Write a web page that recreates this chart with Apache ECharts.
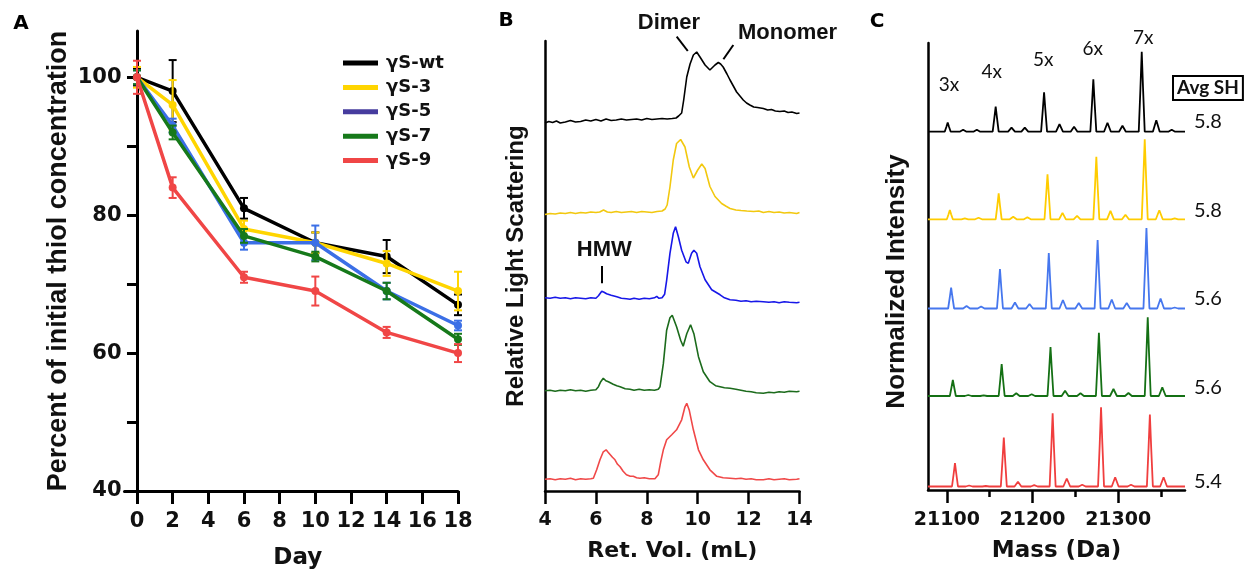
<!DOCTYPE html>
<html><head><meta charset="utf-8">
<script src="https://cdn.jsdelivr.net/npm/echarts@6/dist/echarts.min.js"></script>
<style>html,body{margin:0;padding:0;background:#fff}#c{width:1251px;height:575px}</style>
</head><body><div id="c"></div>
<script>
// ---------- Panel A data ----------
const days = [0, 2, 6, 10, 14, 18];
const seriesNames = ['γS-wt', 'γS-3', 'γS-5', 'γS-7', 'γS-9'];
const thiolWt = [100, 98, 81, 76, 74, 67];
const thiolS3 = [100, 96, 78, 76, 73, 69];
const thiolS5 = [100, 93, 76, 76, 69, 64];
const thiolS7 = [100, 92, 77, 74, 69, 62];
const thiolS9 = [100, 84, 71, 69, 63, 60];
const errWt = [1.2, 4.5, 1.5, 1.5, 2.4, 1.5];
const errS3 = [1.5, 3.6, 1.2, 1.5, 1.8, 2.8];
const errS5 = [1.0, 1.0, 1.0, 2.5, 1.2, 0.7];
const errS7 = [1.0, 1.0, 1.0, 0.7, 1.2, 0.8];
const errS9 = [2.4, 1.5, 0.8, 2.1, 0.8, 1.3];
const dayTicks = [0, 2, 4, 6, 8, 10, 12, 14, 16, 18];
const thiolTicks = [40, 50, 60, 70, 80, 90, 100];
const thiolLabels = [40, 60, 80, 100];

// ---------- Panel B data (retention volume mL, scattering) ----------
const secWt = [[4.0,-1],[4.15,0.5],[4.3,-0.5],[4.45,1],[4.6,-1],[4.8,0],[5.0,1.5],[5.2,0],[5.4,0.5],[5.6,2],[5.8,1],[6.0,2.5],[6.2,1],[6.4,3],[6.6,1.5],[6.8,2],[7.0,3],[7.2,2],[7.4,2.5],[7.6,3],[7.8,2],[8.0,3.5],[8.2,2.5],[8.4,3],[8.6,3.5],[8.8,3],[9.0,3.5],[9.15,4],[9.25,6],[9.37,9],[9.45,22],[9.57,45],[9.70,58],[9.83,67],[9.96,70],[10.09,65],[10.29,57],[10.48,52],[10.6,55],[10.68,57],[10.81,59.5],[10.9,58],[11.0,55],[11.15,48],[11.27,42],[11.4,36],[11.53,30],[11.66,26],[11.79,22],[11.92,19],[12.05,17],[12.2,15],[12.35,14.5],[12.58,13.5],[12.75,12],[12.9,12.5],[13.05,11],[13.23,10.5],[13.4,11],[13.55,9.5],[13.7,10],[13.89,8.5],[14.0,9]];
const secS3 = [[4.0,-1.5],[4.2,-0.5],[4.4,-1],[4.6,0],[4.8,-0.5],[5.0,0.5],[5.2,-0.5],[5.4,0.5],[5.6,0],[5.8,1],[6.0,0.5],[6.15,1],[6.3,3],[6.45,1],[6.6,0.5],[6.8,1.5],[7.0,0.5],[7.2,1],[7.4,1.5],[7.6,0.5],[7.8,1.5],[8.0,1],[8.2,0.5],[8.4,1.5],[8.6,2],[8.72,4],[8.8,8],[8.91,26],[9.04,53],[9.17,69.5],[9.33,73.5],[9.5,66],[9.67,46],[9.83,35],[10.0,43],[10.16,49],[10.29,44.5],[10.48,26.5],[10.68,16.5],[10.94,9.5],[11.1,7],[11.27,4.5],[11.5,3],[11.7,2.5],[11.93,2],[12.2,1.5],[12.4,2],[12.58,0.5],[12.8,1.5],[13.0,0.5],[13.2,1],[13.4,0],[13.6,0.5],[13.89,-0.5],[14.0,0.5]];
const secS5 = [[4.0,0.5],[4.2,0],[4.4,1],[4.6,0],[4.8,0.5],[5.0,-0.5],[5.2,0.5],[5.4,0],[5.6,-0.5],[5.8,0.5],[6.0,0],[6.1,2.5],[6.23,7],[6.32,6],[6.42,4.5],[6.6,3],[6.82,1.5],[7.0,0],[7.2,-0.5],[7.34,-1],[7.5,0],[7.7,-1],[7.9,0],[8.1,-0.5],[8.3,0.5],[8.39,2],[8.48,0],[8.6,0.5],[8.7,4],[8.78,18],[8.91,45],[9.04,65],[9.13,71.5],[9.24,61.5],[9.37,48],[9.54,36.5],[9.63,35],[9.76,45],[9.85,48],[9.96,45],[10.09,31.5],[10.29,18.5],[10.55,8.5],[10.88,3.5],[11.05,0.5],[11.27,-1.5],[11.5,-2],[11.7,-3],[11.9,-2.5],[12.1,-3.5],[12.3,-3],[12.58,-3.5],[12.8,-4],[13.0,-3.5],[13.2,-4.5],[13.4,-3.5],[13.6,-4],[13.89,-4.5],[14.0,-4]];
const secS7 = [[4.0,0],[4.2,0.5],[4.4,-0.5],[4.6,0.5],[4.8,0],[5.0,1],[5.2,0],[5.4,0.5],[5.6,-0.5],[5.8,0.5],[6.0,1],[6.1,4],[6.19,9],[6.29,12.5],[6.39,10],[6.49,9],[6.68,6.5],[6.82,5],[6.95,4],[7.15,2],[7.34,1.5],[7.5,0.5],[7.7,1.5],[7.9,0.5],[8.1,1],[8.3,0.5],[8.45,1.5],[8.52,4],[8.65,27],[8.78,60.5],[8.91,73],[9.0,75.5],[9.17,64],[9.33,50.5],[9.43,44.5],[9.57,57],[9.72,66],[9.85,57],[10.03,34],[10.22,19],[10.48,9],[10.7,5],[10.88,4],[11.05,3],[11.27,2.5],[11.5,1.5],[11.7,0.5],[11.9,-0.5],[12.1,-1],[12.3,-2],[12.58,-2.5],[12.8,-1.5],[13.0,-2],[13.2,-1],[13.4,-1.5],[13.6,-0.5],[13.89,-1],[14.0,-0.5]];
const secS9 = [[4.0,0],[4.2,0.5],[4.4,-0.5],[4.6,0.5],[4.8,0],[5.0,1],[5.2,-0.5],[5.4,0.5],[5.6,0],[5.8,0.5],[5.9,1],[6.03,9.5],[6.16,19.5],[6.29,27.5],[6.40,29.5],[6.48,27],[6.55,26],[6.65,22],[6.75,19.5],[6.85,15],[6.95,12.5],[7.07,8],[7.2,4.5],[7.35,3],[7.47,3],[7.6,1.5],[7.73,1],[7.9,1.5],[8.1,0.5],[8.32,0.5],[8.45,4.5],[8.55,18],[8.65,29.5],[8.78,39.5],[8.98,44.5],[9.17,49.5],[9.37,59.5],[9.5,72.5],[9.57,76],[9.67,69],[9.83,49.5],[10.03,29.5],[10.22,19.5],[10.48,9.5],[10.75,3],[11.0,1.5],[11.27,1],[11.5,0.5],[11.7,1],[11.9,0],[12.1,0.5],[12.3,-0.5],[12.58,-0.5],[12.8,0.5],[13.0,-0.5],[13.2,0],[13.4,0.5],[13.6,-0.5],[13.89,0],[14.0,0.5]];

// ---------- Panel C data (mass Da, normalized intensity) ----------
const msWt = [[21078,0],[21097.5,0],[21099.5,5],[21101,9.3],[21102.5,5],[21104.5,0],[21115,0],[21119,2],[21123,0],[21131,0],[21135,2],[21139,0],[21153.5,0],[21155.5,14],[21157,25],[21158.5,14],[21160.5,0],[21171.5,0],[21175.5,4],[21179.5,0],[21187,0],[21191,4],[21195,0],[21210,0],[21212,22],[21213.5,39.5],[21215,22],[21217,0],[21227.5,0],[21231.5,7.5],[21235.5,0],[21244.5,0],[21248.5,5],[21252.5,0],[21267.5,0],[21269.5,29],[21271,52.5],[21272.5,29],[21274.5,0],[21283.5,0],[21287.5,9],[21291.5,0],[21301,0],[21305,6],[21309,0],[21324,0],[21326,44],[21327.5,80],[21329,44],[21331,0],[21340.5,0],[21344.5,11.5],[21348.5,0],[21358.5,0],[21362.5,2],[21366.5,0],[21378,0]];
const msS3 = [[21078,0],[21100,0],[21102,5],[21103.5,9.3],[21105,5],[21107,0],[21117,0],[21121,1],[21125,0],[21133,0],[21137,1.5],[21141,0],[21157,0],[21159,14],[21160.5,26],[21162,14],[21164,0],[21173.5,0],[21177.5,2.5],[21181.5,0],[21190,0],[21194,2],[21198,0],[21214,0],[21216,25],[21217.5,45],[21219,25],[21221,0],[21231,0],[21235,6.5],[21239,0],[21248,0],[21252,3.5],[21256,0],[21271,0],[21273,34],[21274.5,62.5],[21276,34],[21278,0],[21287,0],[21291,8.5],[21295,0],[21304.5,0],[21308.5,4.5],[21312.5,0],[21327.5,0],[21329.5,44],[21331,80],[21332.5,44],[21334.5,0],[21344,0],[21348,9],[21352,0],[21362,0],[21366,1],[21370,0],[21378,0]];
const msS5 = [[21078,0],[21101.5,0],[21103.5,11.5],[21105,21],[21106.5,11.5],[21108.5,0],[21119,0],[21123,2.5],[21127,0],[21136,0],[21140,2],[21144,0],[21158.5,0],[21160.5,21.5],[21162,39.5],[21163.5,21.5],[21165.5,0],[21175.5,0],[21179.5,6],[21183.5,0],[21192.5,0],[21196.5,4.5],[21200.5,0],[21215.5,0],[21217.5,30],[21219,55.5],[21220.5,30],[21222.5,0],[21231.5,0],[21235.5,8.5],[21239.5,0],[21250,0],[21254,5.5],[21258,0],[21272.5,0],[21274.5,37.5],[21276,68.5],[21277.5,37.5],[21279.5,0],[21288.5,0],[21292.5,9],[21296.5,0],[21306,0],[21310,5.5],[21314,0],[21329.5,0],[21331.5,44],[21333,80.5],[21334.5,44],[21336.5,0],[21345.5,0],[21349.5,10],[21353.5,0],[21362,0],[21366,1],[21370,0],[21378,0]];
const msS7 = [[21078,0],[21103.5,0],[21105.5,9],[21107,16],[21108.5,9],[21110.5,0],[21121,0],[21125,1],[21129,0],[21139,0],[21143,0.7],[21147,0],[21160.5,0],[21162.5,17.5],[21164,32],[21165.5,17.5],[21167.5,0],[21177,0],[21181,2.7],[21185,0],[21195,0],[21199,1.7],[21203,0],[21217.5,0],[21219.5,27],[21221,49],[21222.5,27],[21224.5,0],[21234,0],[21238,5.3],[21242,0],[21252,0],[21256,2.7],[21260,0],[21274,0],[21276,35],[21277.5,63.3],[21279,35],[21281,0],[21290.5,0],[21294.5,7],[21298.5,0],[21308,0],[21312,3],[21316,0],[21331,0],[21333,43],[21334.5,78.7],[21336,43],[21338,0],[21347.5,0],[21351.5,8.7],[21355.5,0],[21378,0]];
const msS9 = [[21078,0],[21106,0],[21108,13],[21109.5,23.3],[21111,13],[21113,0],[21122,0],[21126,1],[21130,0],[21141.5,0],[21145.5,0.5],[21149.5,0],[21163,0],[21165,27],[21166.5,49],[21168,27],[21170,0],[21179,0],[21183,4.7],[21187,0],[21198,0],[21202,1.3],[21206,0],[21220,0],[21222,40],[21223.5,73.3],[21225,40],[21227,0],[21236,0],[21240,8],[21244,0],[21254,0],[21258,1.7],[21262,0],[21276.5,0],[21278.5,43.5],[21280,79.3],[21281.5,43.5],[21283.5,0],[21292.5,0],[21296.5,9.3],[21300.5,0],[21311,0],[21315,1.7],[21319,0],[21333.5,0],[21335.5,39.5],[21337,72],[21338.5,39.5],[21340.5,0],[21349,0],[21353,9.3],[21357,0],[21378,0]];
const massMajorTicks = [21100, 21200, 21300];
const massMinorTicks = [21150, 21250, 21350];
const avgSH = ['5.8', '5.8', '5.6', '5.6', '5.4'];
const peakLabels = ['3x', '4x', '5x', '6x', '7x'];

// ---------- styling ----------
const DV = '"DejaVu Sans", sans-serif';
const LB = '"Liberation Sans", Arial, sans-serif';
const LT = 'Lato, "Open Sans", sans-serif';
const colA = ['#000000', '#FFD500', '#3B6FE6', '#16791A', '#F04646'];
const colB = ['#000000', '#F2C80F', '#1717E8', '#1C6B1C', '#F04848'];
const colC = ['#000000', '#FFCC00', '#4677EE', '#147014', '#F03E3E'];
const thiol = [thiolWt, thiolS3, thiolS5, thiolS7, thiolS9];
const errs = [errWt, errS3, errS5, errS7, errS9];
const secs = [secWt, secS3, secS5, secS7, secS9];
const mss = [msWt, msS3, msS5, msS7, msS9];

// grids: 0 = A, 1 = B frame, 2..6 = B traces, 7 = C frame, 8..12 = C traces
const bBase = [122, 213, 298.3, 390.7, 479.3];
const cBase = [131.7, 219.3, 308.5, 396, 486.5];
const grids = [{left: 124.5, top: 31.1, width: 333.5, height: 459.9}];
grids.push({left: 545, top: 41, width: 254.5, height: 450});
bBase.forEach(b => grids.push({left: 545, top: b - 110, width: 254.5, height: 120}));
grids.push({left: 928, top: 43, width: 257, height: 447});
cBase.forEach(b => grids.push({left: 928, top: b - 110, width: 299.83, height: 120}));

const blackAxis = (w) => ({show: true, onZero: false, lineStyle: {color: '#000', width: w}});
const xAxes = [], yAxes = [];
// A
xAxes.push({gridIndex: 0, type: 'value', min: -0.7, max: 18,
  axisLine: {show: true, onZero: false, lineStyle: {color: '#000', width: 3}},
  axisTick: {show: true, length: 13, customValues: dayTicks, lineStyle: {width: 3, color: '#000'}},
  axisLabel: {customValues: dayTicks, margin: 20, fontFamily: DV, fontWeight: 'bold', fontSize: 21, color: '#111'},
  splitLine: {show: false},
  name: 'Day', nameLocation: 'middle', nameGap: 56,
  nameTextStyle: {fontFamily: DV, fontWeight: 'bold', fontSize: 23, color: '#111', padding: [0, 0, 0, 13]}});
yAxes.push({gridIndex: 0, type: 'value', min: 40, max: 106.7,
  axisLine: {show: true, onZero: true, lineStyle: {color: '#000', width: 3}},
  axisTick: {show: true, length: 10, customValues: thiolTicks, lineStyle: {width: 3, color: '#000'}},
  axisLabel: {customValues: thiolLabels, margin: 3, fontFamily: DV, fontWeight: 'bold', fontSize: 21, color: '#111'},
  splitLine: {show: false},
  name: 'Percent of initial thiol concentration', nameLocation: 'middle', nameGap: 52,
  nameTextStyle: {fontFamily: LB, fontWeight: 'bold', fontSize: 27, color: '#111'}});
// B frame
xAxes.push({gridIndex: 1, type: 'value', min: 4, max: 14, interval: 2,
  axisLine: blackAxis(2.5),
  axisTick: {show: true, length: 13, lineStyle: {width: 2.5, color: '#000'}},
  axisLabel: {margin: 20, fontFamily: DV, fontWeight: 'bold', fontSize: 19, color: '#111'},
  splitLine: {show: false},
  name: 'Ret. Vol. (mL)', nameLocation: 'middle', nameGap: 49,
  nameTextStyle: {fontFamily: DV, fontWeight: 'bold', fontSize: 22, color: '#111'}});
yAxes.push({gridIndex: 1, type: 'value', min: 0, max: 1,
  axisLine: blackAxis(2.5), axisTick: {show: false}, axisLabel: {show: false}, splitLine: {show: false},
  name: 'Relative Light Scattering', nameLocation: 'middle', nameGap: 17,
  nameTextStyle: {fontFamily: LB, fontWeight: 'bold', fontSize: 24, color: '#111'}});
for (let i = 0; i < 5; i++) {
  xAxes.push({gridIndex: 2 + i, type: 'value', min: 4, max: 14, show: false});
  yAxes.push({gridIndex: 2 + i, type: 'value', min: -10, max: 110, show: false});
}
// C frame
xAxes.push({gridIndex: 7, type: 'value', min: 21078, max: 21378,
  axisLine: blackAxis(2.5),
  axisTick: {show: true, length: 13, customValues: massMajorTicks, lineStyle: {width: 2.5, color: '#000'}},
  axisLabel: {customValues: massMajorTicks, margin: 21, formatter: v => String(v),
    fontFamily: DV, fontWeight: 'bold', fontSize: 19, color: '#111'},
  splitLine: {show: false},
  name: 'Mass (Da)', nameLocation: 'middle', nameGap: 50,
  nameTextStyle: {fontFamily: DV, fontWeight: 'bold', fontSize: 23, color: '#111'}});
yAxes.push({gridIndex: 7, type: 'value', min: 0, max: 1,
  axisLine: blackAxis(2.5), axisTick: {show: false}, axisLabel: {show: false}, splitLine: {show: false},
  name: 'Normalized Intensity', nameLocation: 'middle', nameGap: 18,
  nameTextStyle: {fontFamily: LB, fontWeight: 'bold', fontSize: 26, color: '#111', padding: [0, 30, 0, 0]}});
for (let i = 0; i < 5; i++) {
  xAxes.push({gridIndex: 8 + i, type: 'value', min: 21078, max: 21428, show: false});
  yAxes.push({gridIndex: 8 + i, type: 'value', min: -10, max: 110, show: false});
}
// C minor ticks (extra axis on frame grid)
xAxes.push({gridIndex: 7, type: 'value', min: 21078, max: 21378, position: 'bottom',
  axisLine: {show: false, onZero: false},
  axisTick: {show: true, length: 7, customValues: massMinorTicks, lineStyle: {width: 2.5, color: '#000'}},
  axisLabel: {show: false}, splitLine: {show: false}});
const minorXIdx = xAxes.length - 1;

const series = [];
// Panel A lines + error bars
seriesNames.forEach((nm, i) => {
  series.push({name: nm, type: 'line', xAxisIndex: 0, yAxisIndex: 0,
    data: days.map((d, k) => [d, thiol[i][k]]),
    symbol: 'circle', symbolSize: 8, showSymbol: true,
    lineStyle: {color: colA[i], width: 3.5}, itemStyle: {color: colA[i]}, z: 3 + i});
  series.push({name: 'err ' + nm, type: 'custom', xAxisIndex: 0, yAxisIndex: 0,
    data: days.map((d, k) => [d, thiol[i][k], errs[i][k]]), z: 3 + i,
    renderItem: (params, api) => {
      const x = api.value(0), y = api.value(1), e = api.value(2);
      const p1 = api.coord([x, y + e]), p2 = api.coord([x, y - e]);
      const st = {stroke: colA[i], lineWidth: 2};
      return {type: 'group', children: [
        {type: 'line', shape: {x1: p1[0], y1: p1[1], x2: p2[0], y2: p2[1]}, style: st},
        {type: 'line', shape: {x1: p1[0] - 4, y1: p1[1], x2: p1[0] + 4, y2: p1[1]}, style: st},
        {type: 'line', shape: {x1: p2[0] - 4, y1: p2[1], x2: p2[0] + 4, y2: p2[1]}, style: st}]};
    }});
});
// Panel B traces
const annLine = (a, b) => [{coord: a}, {coord: b}];
const annLabel = {show: true, position: 'inside', fontFamily: LB, fontWeight: 'bold', fontSize: 22, color: '#111'};
secs.forEach((d, i) => {
  const s = {name: 'SEC ' + seriesNames[i], type: 'line', xAxisIndex: 2 + i, yAxisIndex: 2 + i, data: d,
    showSymbol: false, symbol: 'none', clip: false, silent: true,
    lineStyle: {color: colB[i], width: 1.6}, itemStyle: {color: colB[i]}};
  if (i === 0) {
    s.markPoint = {symbol: 'rect', symbolSize: 1, itemStyle: {color: 'rgba(0,0,0,0)'}, label: annLabel,
      data: [{coord: [8.87, 99.5], label: {formatter: 'Dimer'}}, {coord: [13.53, 89.5], label: {formatter: 'Monomer'}}]};
    s.markLine = {symbol: ['none', 'none'], silent: true, label: {show: false},
      lineStyle: {color: '#000', width: 2, type: 'solid'},
      data: [annLine([9.175, 85.3], [9.61, 71]), annLine([11.40, 77], [11.01, 62.7])]};
  }
  if (i === 2) {
    s.markPoint = {symbol: 'rect', symbolSize: 1, itemStyle: {color: 'rgba(0,0,0,0)'}, label: annLabel,
      data: [{coord: [6.33, 48.8], label: {formatter: 'HMW'}}]};
    s.markLine = {symbol: ['none', 'none'], silent: true, label: {show: false},
      lineStyle: {color: '#000', width: 2, type: 'solid'},
      data: [annLine([6.23, 32.3], [6.23, 15])]};
  }
  series.push(s);
});
// Panel C traces
const shY = [10, 8.3, 10, 8.6, 5];
const peakPos = [[21102.5, 46.7], [21152.4, 60], [21212.6, 71.7], [21270.3, 82.7], [21329.3, 94]];
mss.forEach((d, i) => {
  const mp = [{coord: [21404.8, shY[i]], label: {formatter: avgSH[i], fontFamily: LT, fontSize: 20, color: '#111'}}];
  if (i === 0) {
    peakLabels.forEach((t, k) => mp.push({coord: peakPos[k], label: {formatter: t, fontFamily: LT, fontSize: 19, color: '#111'}}));
    mp.push({coord: [21404.8, 43.7], label: {formatter: 'Avg SH', fontFamily: LT, fontWeight: 'bold', fontSize: 19, color: '#111',
      borderColor: '#000', borderWidth: 2, padding: [3, 4, 2, 4]}});
  }
  series.push({name: 'MS ' + seriesNames[i], type: 'line', xAxisIndex: 8 + i, yAxisIndex: 8 + i, data: d,
    showSymbol: false, symbol: 'none', clip: false, silent: true,
    lineStyle: {color: colC[i], width: 1.8}, itemStyle: {color: colC[i]},
    markPoint: {symbol: 'rect', symbolSize: 1, itemStyle: {color: 'rgba(0,0,0,0)'},
      label: {show: true, position: 'inside'}, data: mp}});
});
// dummy series to anchor minor tick axis
series.push({name: 'minor', type: 'line', xAxisIndex: minorXIdx, yAxisIndex: 7, data: [], silent: true});

const chart = echarts.init(document.getElementById('c'), null, {renderer: 'canvas'});
chart.setOption({
  animation: false,
  backgroundColor: '#fff',
  grid: grids,
  xAxis: xAxes,
  yAxis: yAxes,
  legend: {
    orient: 'vertical', left: 338, top: 48, itemWidth: 35, itemHeight: 5, itemGap: 4.4, icon: 'rect',
    data: seriesNames.map(n => n === 'γS-5' ? {name: n, itemStyle: {color: '#463C9E'}} : n),
    textStyle: {fontFamily: DV, fontWeight: 'bold', fontSize: 18, color: '#111', lineHeight: 20, padding: [0, 0, 0, 3]},
    selectedMode: false
  },
  graphic: [
    {type: 'text', x: 21, y: 24, style: {text: 'A', fontFamily: DV, fontWeight: 'bold', fontSize: 20, fill: '#000', align: 'center', verticalAlign: 'middle'}},
    {type: 'text', x: 506, y: 21, style: {text: 'B', fontFamily: DV, fontWeight: 'bold', fontSize: 20, fill: '#000', align: 'center', verticalAlign: 'middle'}},
    {type: 'text', x: 877, y: 22, style: {text: 'C', fontFamily: DV, fontWeight: 'bold', fontSize: 20, fill: '#000', align: 'center', verticalAlign: 'middle'}}
  ],
  series: series
});
</script></body></html>
